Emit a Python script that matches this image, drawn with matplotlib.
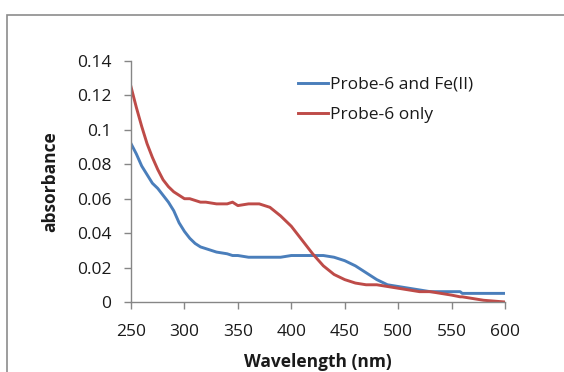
import matplotlib
matplotlib.use("Agg")
import matplotlib.pyplot as plt
from matplotlib.patches import Rectangle

plt.rcParams['font.family'] = ['Open Sans', 'DejaVu Sans']

# Wavelength grid (nm)
wavelength = [250, 255, 260, 265, 270, 275, 280, 285, 290, 295, 300, 305, 310, 315,
              320, 330, 340, 345, 350, 360, 370, 380, 390, 400, 410, 420, 430, 440,
              450, 460, 470, 480, 490, 500, 510, 520, 530, 540, 550, 558, 560, 570,
              580, 590, 600]

# Absorbance of probe with Fe(II)
probe_fe = [0.092, 0.086, 0.079, 0.074, 0.069, 0.066, 0.062, 0.058, 0.053, 0.046,
            0.041, 0.037, 0.034, 0.032, 0.031, 0.029, 0.028, 0.027, 0.027, 0.026,
            0.026, 0.026, 0.026, 0.027, 0.027, 0.027, 0.027, 0.026, 0.024, 0.021,
            0.017, 0.013, 0.010, 0.009, 0.008, 0.007, 0.006, 0.006, 0.006, 0.006,
            0.005, 0.005, 0.005, 0.005, 0.005]

# Absorbance of probe only
probe_only = [0.125, 0.113, 0.102, 0.092, 0.084, 0.077, 0.071, 0.067, 0.064, 0.062,
              0.060, 0.060, 0.059, 0.058, 0.058, 0.057, 0.057, 0.058, 0.056, 0.057,
              0.057, 0.055, 0.050, 0.044, 0.036, 0.028, 0.021, 0.016, 0.013, 0.011,
              0.010, 0.010, 0.009, 0.008, 0.007, 0.006, 0.006, 0.005, 0.004, 0.003,
              0.003, 0.002, 0.001, 0.0005, 0.0]

series_names = ["Probe-6 and Fe(II)", "Probe-6 only"]
x_ticks = [250, 300, 350, 400, 450, 500, 550, 600]
y_ticks = [0, 0.02, 0.04, 0.06, 0.08, 0.1, 0.12, 0.14]
y_tick_labels = ["0", "0.02", "0.04", "0.06", "0.08", "0.1", "0.12", "0.14"]

fig = plt.figure(figsize=(5.64, 3.72), dpi=100)
fig.patch.set_facecolor("white")

# outer chart frame
fig.patches.append(Rectangle((0.0124, -0.1), 1.2, 1.06, transform=fig.transFigure,
                             fill=False, edgecolor="#8c8c8c", linewidth=1.2))

ax = fig.add_axes([0.2323, 0.1882, 0.6631, 0.6478])
ax.plot(wavelength, probe_fe, color="#4a7ebb", linewidth=2.1, label=series_names[0])
ax.plot(wavelength, probe_only, color="#be4b48", linewidth=2.1, label=series_names[1])

ax.set_xlim(250, 600)
ax.set_ylim(0, 0.14)
ax.set_xticks(x_ticks)
ax.set_yticks(y_ticks)
ax.set_yticklabels(y_tick_labels)

for side in ("top", "right"):
    ax.spines[side].set_visible(False)
for side in ("left", "bottom"):
    ax.spines[side].set_color("#868686")
    ax.spines[side].set_linewidth(1.0)

ax.tick_params(axis="both", direction="out", length=5, width=1.0, color="#868686",
               labelsize=12.5, labelcolor="#1a1a1a")
ax.tick_params(axis="y", pad=9)
ax.tick_params(axis="x", pad=11)

ax.set_xlabel("Wavelength (nm)", fontsize=12.5, fontweight="bold", color="#1a1a1a", labelpad=9)
ax.set_ylabel("absorbance", fontsize=12.5, fontweight="bold", color="#1a1a1a", labelpad=13)

leg = ax.legend(loc="upper left", bbox_to_anchor=(0.405, 1.0), frameon=False,
                fontsize=12.5, handlelength=1.75, handletextpad=0.1, labelspacing=0.83)
for t in leg.get_texts():
    t.set_color("#1a1a1a")

fig.savefig("out.png", dpi=100, facecolor="white")
